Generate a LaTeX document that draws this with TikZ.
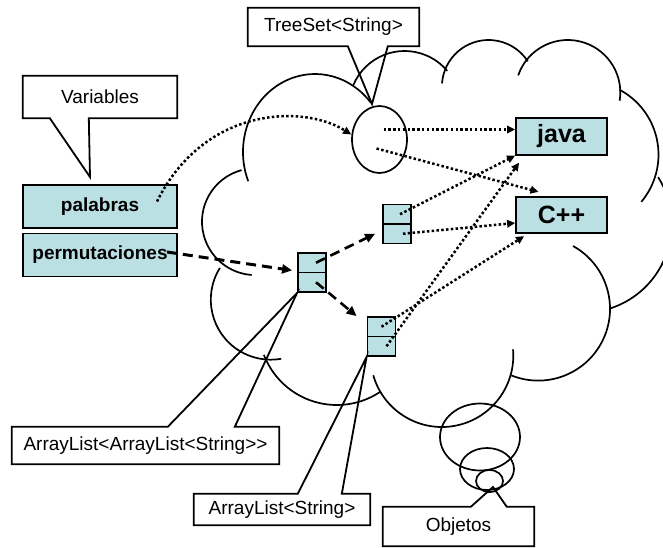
\documentclass[tikz,border=0pt]{standalone}
\usepackage{fontspec}
\setmainfont{Liberation Sans}
\usetikzlibrary{arrows.meta,shapes.geometric,calc}
\definecolor{cellfill}{RGB}{187,224,227}
\begin{document}
\begin{tikzpicture}[x=1pt,y=-1pt,
  txt/.style={inner sep=0pt, font=\fontsize{19}{22}\selectfont},
  varbox/.style={draw, line width=1.8pt, fill=cellfill, minimum width=154pt, minimum height=43pt,
    inner sep=0pt, font=\fontsize{19}{22}\selectfont\bfseries},
  valbox/.style={draw, line width=1.8pt, fill=cellfill, minimum width=91pt, minimum height=36.5pt,
    inner sep=0pt, font=\fontsize{25}{28}\selectfont\bfseries},
  cell/.style={draw, line width=1.8pt, fill=cellfill, minimum width=28pt, minimum height=19.5pt, inner sep=0pt},
  outline/.style={draw, line width=1.8pt, line join=miter},
  cloudline/.style={line width=1.7pt},
  dots/.style={line width=2.5pt, dash pattern=on 2.5pt off 2.3pt, -{Triangle[length=8pt,width=7.5pt]}},
  dashes/.style={line width=2.6pt, dash pattern=on 10pt off 6pt, -{Triangle[length=10pt,width=9pt]}}
]
\useasboundingbox (0,0) rectangle (663,548);
\clip (0,0) rectangle (663,548);

% ---- callout labels ----
\node[txt, minimum width=171pt, minimum height=38pt] (ts) at (333.5,27) {TreeSet<String>};
\node[txt, minimum width=154pt, minimum height=42pt] (var) at (100,97) {Variables};
\node[txt, minimum width=267pt, minimum height=37pt] (aal) at (145.5,445.5) {ArrayList<ArrayList<String>\kern0pt>};
\node[txt, minimum width=176pt, minimum height=31pt] (asl) at (282,509.5) {ArrayList<String>};
\node[txt, minimum width=151pt, minimum height=39pt] (obj) at (458.5,526.5) {Objetos};

% ---- variables ----
\node[varbox] (pal) at (100,206.5) {palabras};
\node[varbox] (perm) at (100,255) {permutaciones};

% ---- objects ----
\node[draw, ellipse, line width=1.7pt, minimum width=55pt, minimum height=67pt, inner sep=0pt] (set) at (379.5,139.5) {};
\node[valbox] (java) at (561.5,136.5) {java};
\node[valbox] (cpp) at (561.5,215) {C++};
\node[cell] (up1) at (397,214.25) {};
\node[cell] (up2) at (397,233.75) {};
\node[cell] (mid1) at (312,262.75) {};
\node[cell] (mid2) at (312,282.25) {};
\node[cell] (low1) at (381.5,326.75) {};
\node[cell] (low2) at (381.5,346.25) {};

\coordinate (tsTip) at (372,104);
\coordinate (varTip) at (90,177);
\coordinate (objTip) at (493,487);

% ---- callout outlines ----
\draw[outline] (ts.south west) -- (ts.north west) -- (ts.north east) -- (ts.south east)
  -- ([xshift=140pt]ts.south west) -- (tsTip) -- ([xshift=100pt]ts.south west) -- cycle;
\draw[outline] (var.south west) -- (var.north west) -- (var.north east) -- (var.south east)
  -- ([xshift=66pt]var.south west) -- (varTip) -- ([xshift=27pt]var.south west) -- cycle;
\draw[outline] (aal.north west) -- ([xshift=156pt]aal.north west) -- (mid2.south west)
  -- ([xshift=223pt]aal.north west) -- (aal.north east) -- (aal.south east) -- (aal.south west) -- cycle;
\draw[outline] (asl.north west) -- ([xshift=104pt]asl.north west) -- (low2.south west)
  -- ([xshift=148pt]asl.north west) -- (asl.north east) -- (asl.south east) -- (asl.south west) -- cycle;
\draw[outline] (obj.north west) -- ([xshift=88pt]obj.north west) -- (objTip)
  -- ([xshift=124pt]obj.north west) -- (obj.north east) -- (obj.south east) -- (obj.south west) -- cycle;

% ---- cloud (heap) ----
\begin{scope}[cloudline]
  \draw (315,152) ++(158:72 and 78) arc[start angle=158, end angle=321, x radius=72, y radius=78];
  \draw (404.6,106.6) ++(-157:55.6) arc[start angle=-157, end angle=-40, radius=55.6];
  \draw (488.6,86.7) ++(-176:46.7) arc[start angle=-176, end angle=-33, radius=46.7];
  \draw (567.8,92.5) ++(-161:52.5) arc[start angle=-161, end angle=9, radius=52.5];
  \draw (585,154.6) ++(-62:73.5) arc[start angle=-62, end angle=40, radius=73.5];
  \draw (583,224.1) ++(-32:88.6) arc[start angle=-32, end angle=72, radius=88.6];
  \draw (538.2,308.8) ++(-61:71.8) arc[start angle=-61, end angle=112, radius=71.8];
  \draw (441.9,355.6) ++(164:71.4) arc[start angle=164, end angle=-5, radius=71.4];
  \draw (336.8,326.9) ++(159:78.1) arc[start angle=159, end angle=56, radius=78.1];
  \draw (270.8,299.7) ++(212:60) arc[start angle=212, end angle=80, radius=60];
  \draw (255.4,221.7) ++(255:53.4) arc[start angle=255, end angle=94, radius=53.4];
  % thought bubbles
  \draw (480,437) ellipse[x radius=40, y radius=33.5];
  \draw (487,469) ellipse[x radius=27, y radius=21];
  \draw (489.5,481) ellipse[x radius=13.5, y radius=11];
\end{scope}

% ---- references ----
\coordinate (s1) at ([shift={(4,-10)}]set.center);
\coordinate (s2) at ([shift={(-3,9)}]set.center);
\draw[dots] ([shift={(57,-5)}]pal.center) .. controls (205,105) and (305,105) .. ([yshift=5pt]set.west);
\draw[dots] (s1) -- (s1 -| java.west);
\draw[dots] (s2) -- ([shift={(-23,-4)}]cpp.north);
\draw[dots] ([xshift=3pt]up1.center) -- (java.south west);
\draw[dots] ([xshift=6pt]up2.center) -- ([shift={(0,8)}]cpp.west);
\draw[dots] (low1.center) -- ([shift={(9,2)}]cpp.south west);
\draw[dots] ([xshift=5pt]low2.center) -- ([shift={(4,7)}]java.south west);

\draw[dashes, line width=3pt] ([shift={(67,-3)}]perm.center) -- ([shift={(-5,-3)}]mid1.south west);
\draw[dashes] ([xshift=4pt]mid1.center) -- ([xshift=-7pt]up2.west);
\draw[dashes] ([xshift=4pt]mid2.center) -- ([xshift=-10pt]low1.north west);
\end{tikzpicture}
\end{document}
